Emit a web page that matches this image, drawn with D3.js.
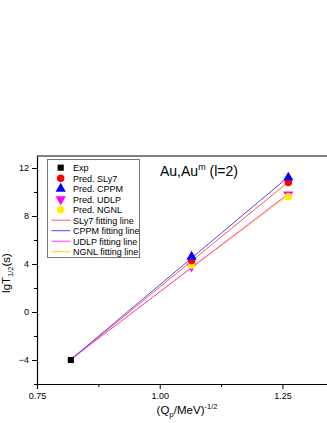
<!DOCTYPE html>
<html><head><meta charset="utf-8">
<script src="https://cdn.jsdelivr.net/npm/d3@7/dist/d3.min.js"></script>
<style>html,body{margin:0;padding:0;background:#fff;}svg{display:block;font-family:"Liberation Sans",Arial,sans-serif;}</style>
</head><body><svg id="c" width="327" height="423"></svg>
<script>
const expX = [0.819];
const expY = [-4];
const predX = [1.065, 1.262];
const sly7 = [4.3, 10.8];
const cppm = [4.6, 11.2];
const udlp = [3.8, 9.8];
const ngnl = [3.9, 9.6];
const xTicks = [0.75, 1.00, 1.25];
const xMinor = [0.875, 1.125];
const yTicks = [-4, 0, 4, 8, 12];
const yMinor = [-6, -2, 2, 6, 10];

const series = [
  {name:"SLy7", vals:sly7, color:"#ff0000", line:"#ff5a5a", sym:"circle"},
  {name:"CPPM", vals:cppm, color:"#0000ff", line:"#4a4aff", sym:"triangle"},
  {name:"UDLP", vals:udlp, color:"#ff00ff", line:"#ff40ff", sym:"down"},
  {name:"NGNL", vals:ngnl, color:"#ffee00", line:"#ffd700", sym:"diamond"}
];

const svg = d3.select("#c");
const x = d3.scaleLinear().domain([0.75, 1.35]).range([37, 331.5]);
const y = d3.scaleLinear().domain([-6, 13]).range([384, 156]);

// frame
svg.append("line").attr("x1",37).attr("x2",331.5).attr("y1",156).attr("y2",156).attr("stroke","#000").attr("stroke-width",1);
svg.append("line").attr("x1",331.5).attr("x2",331.5).attr("y1",156).attr("y2",384).attr("stroke","#000");

const xa = svg.append("g").attr("transform","translate(0,384)")
  .call(d3.axisBottom(x).tickValues(xTicks).tickFormat(d3.format(".2f")).tickSizeOuter(0).tickSize(5).tickPadding(4));
xa.select(".domain").attr("stroke-width",1.2);
xa.selectAll("text").attr("font-size",9).attr("font-family","'Liberation Sans', Arial, sans-serif");
svg.append("g").attr("transform","translate(0,384)")
  .call(d3.axisBottom(x).tickValues(xMinor).tickFormat("").tickSize(3).tickSizeOuter(0))
  .select(".domain").remove();

const ya = svg.append("g").attr("transform","translate(37,0)")
  .call(d3.axisLeft(y).tickValues(yTicks).tickSize(5).tickSizeOuter(0).tickPadding(3));
ya.select(".domain").attr("stroke-width",1.2);
ya.selectAll("text").attr("font-size",9).attr("font-family","'Liberation Sans', Arial, sans-serif");
svg.append("g").attr("transform","translate(37,0)")
  .call(d3.axisLeft(y).tickValues(yMinor).tickFormat("").tickSize(3).tickSizeOuter(0))
  .select(".domain").remove();

// fitting lines (least squares through exp + predictions)
function fit(xs, ys){
  const n=xs.length, mx=d3.mean(xs), my=d3.mean(ys);
  let sxy=0,sxx=0; for(let i=0;i<n;i++){sxy+=(xs[i]-mx)*(ys[i]-my);sxx+=(xs[i]-mx)**2;}
  const b=sxy/sxx, a=my-b*mx; return t=>a+b*t;
}
const lineOrder = [series[3], series[2], series[0], series[1]];
lineOrder.forEach(s=>{
  const xs = expX.concat(predX), ys = expY.concat(s.vals);
  const f = fit(xs, ys);
  const x0 = d3.min(xs), x1 = d3.max(xs);
  svg.append("path").attr("d", d3.line().x(d=>x(d)).y(d=>y(f(d)))([x0,x1]))
    .attr("stroke", s.line).attr("stroke-width",1).attr("fill","none");
});

function symPath(sym){
  if(sym==="circle") return d3.symbol().type(d3.symbolCircle).size(44)();
  if(sym==="triangle") return d3.symbol().type(d3.symbolTriangle).size(46)();
  if(sym==="diamond") return d3.symbol().type(d3.symbolCircle).size(44)();
  if(sym==="square") return d3.symbol().type(d3.symbolSquare).size(38)();
  return null;
}
function drawSym(g, sym, cx, cy, color){
  if(sym==="down"){
    g.append("path").attr("d", d3.symbol().type(d3.symbolTriangle).size(46)())
      .attr("transform",`translate(${cx},${cy}) rotate(180)`).attr("fill",color);
  } else {
    g.append("path").attr("d", symPath(sym)).attr("transform",`translate(${cx},${cy})`).attr("fill",color);
  }
}
const pts = svg.append("g");
[series[2], series[3], series[0], series[1]].forEach(s=>{
  predX.forEach((px,i)=> drawSym(pts, s.sym, x(px), y(s.vals[i]), s.color));
});
expX.forEach((ex,i)=> drawSym(pts, "square", x(ex), y(expY[i]), "#000"));

// legend
const lg = svg.append("g");
lg.append("rect").attr("x",47.5).attr("y",159.5).attr("width",92).attr("height",98)
  .attr("fill","#fff").attr("stroke","#777").attr("stroke-width",1);
const entries = [{label:"Exp", sym:"square", color:"#000"}]
  .concat(series.map(s=>({label:"Pred. "+s.name, sym:s.sym, color:s.color})))
  .concat(series.map(s=>({label:s.name+" fitting line", line:s.line})));
entries.forEach((e,i)=>{
  const cy = 167.7 + i*10.5;
  if(e.line){
    lg.append("line").attr("x1",51.5).attr("x2",70.5).attr("y1",cy).attr("y2",cy).attr("stroke",e.line).attr("stroke-width",1);
  } else {
    drawSym(lg, e.sym, 60.7, cy, e.color);
  }
  lg.append("text").attr("x",73).attr("y",cy+3.3).attr("font-size",9).text(e.label);
});

// title
const t = svg.append("text").attr("x",160).attr("y",176).attr("font-size",14);
t.append("tspan").text("Au,Au");
t.append("tspan").attr("font-size",9).attr("dy",-6).text("m");
t.append("tspan").attr("dy",6).text(" (l=2)");

// axis titles
const xt = svg.append("text").attr("x",187).attr("y",414).attr("text-anchor","middle").attr("font-size",11.5);
xt.append("tspan").text("(Q");
xt.append("tspan").attr("font-size",8).attr("dy",3).text("p");
xt.append("tspan").attr("dy",-3).text("/MeV)");
xt.append("tspan").attr("font-size",7.5).attr("dy",-5).text("-1/2");

const yt = svg.append("text").attr("transform","translate(10,273) rotate(-90)").attr("text-anchor","middle").attr("font-size",11.5);
yt.append("tspan").text("lgT");
yt.append("tspan").attr("font-size",7.5).attr("dy",3).text("1/2");
yt.append("tspan").attr("dy",-3).text("(s)");
</script></body></html>
